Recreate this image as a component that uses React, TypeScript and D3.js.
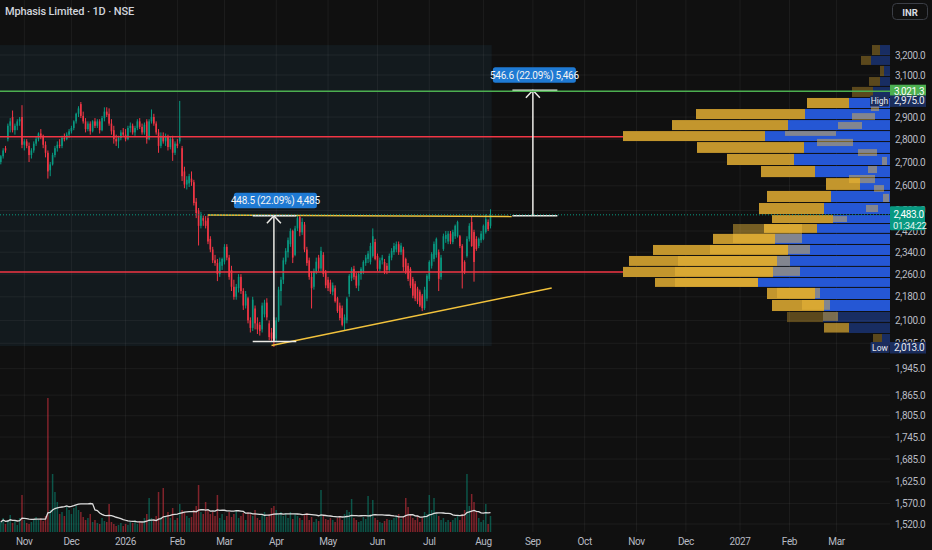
import React from "react";
import * as d3 from "d3";

const W = 932;
const H = 550;
const PLOT_RIGHT = 890;
const UP = "#089981";
const DOWN = "#f23645";
const FONT = "Roboto, 'Liberation Sans', sans-serif";

const title = "Mphasis Limited · 1D · NSE";
const firstBarDate = new Date(2025, 9, 20);

// daily candles [open, high, low, close]
const candles: [number, number, number, number][] = [
  [2700,2730,2690,2725],[2725,2760,2715,2750],[2760,2770,2740,2750],[2800,2870,2790,2860],[2860,2895,2830,2880],
  [2900,2930,2830,2840],[2840,2870,2820,2860],[2860,2890,2840,2880],[2880,2900,2860,2890],[2900,2955,2760,2775],
  [2775,2800,2750,2790],[2790,2800,2760,2770],[2770,2785,2700,2730],[2730,2760,2715,2750],[2750,2790,2740,2780],
  [2780,2810,2770,2800],[2800,2830,2790,2825],[2825,2845,2800,2815],[2815,2820,2760,2775],[2775,2790,2720,2740],
  [2740,2750,2630,2660],[2665,2700,2640,2690],[2690,2740,2685,2730],[2730,2770,2720,2760],[2760,2790,2745,2775],
  [2775,2800,2760,2770],[2770,2815,2760,2805],[2805,2825,2790,2800],[2800,2830,2795,2820],[2820,2845,2805,2835],
  [2835,2860,2825,2850],[2850,2885,2840,2880],[2880,2920,2870,2915],[2915,2950,2900,2940],[2960,2970,2895,2905],
  [2905,2925,2870,2880],[2880,2895,2830,2845],[2845,2880,2835,2870],[2870,2880,2820,2835],[2835,2885,2830,2880],
  [2880,2895,2850,2860],[2860,2890,2850,2880],[2880,2890,2825,2840],[2840,2905,2835,2895],[2895,2945,2880,2925],
  [2925,2945,2900,2910],[2915,2940,2860,2870],[2870,2890,2820,2835],[2840,2860,2780,2800],[2800,2820,2770,2790],
  [2790,2815,2760,2805],[2805,2840,2795,2830],[2830,2850,2810,2820],[2820,2845,2790,2800],[2800,2860,2795,2850],
  [2850,2875,2830,2860],[2860,2870,2820,2830],[2830,2860,2815,2850],[2850,2890,2840,2880],[2880,2895,2845,2855],
  [2855,2870,2820,2830],[2830,2875,2820,2865],[2880,2890,2780,2800],[2800,2890,2795,2880],[2880,2935,2870,2900],
  [2900,2915,2860,2870],[2870,2880,2820,2830],[2830,2845,2740,2770],[2770,2830,2760,2815],[2815,2830,2780,2790],
  [2790,2825,2770,2810],[2810,2820,2750,2765],[2765,2810,2755,2800],[2800,2815,2705,2740],[2740,2790,2730,2780],
  [2780,2800,2760,2770],[2790,2975,2780,2815],[2760,2770,2620,2640],[2660,2680,2590,2605],[2605,2640,2585,2625],
  [2610,2650,2595,2640],[2630,2660,2600,2615],[2615,2625,2520,2530],[2535,2550,2470,2490],[2500,2510,2365,2440],
  [2440,2495,2430,2480],[2470,2480,2440,2460],[2460,2478,2430,2440],[2470,2482,2370,2380],[2390,2400,2340,2350],
  [2350,2360,2300,2310],[2310,2330,2290,2300],[2300,2315,2235,2260],[2260,2320,2250,2305],[2290,2320,2275,2315],
  [2305,2370,2295,2360],[2360,2370,2310,2320],[2320,2330,2240,2250],[2275,2290,2200,2215],[2215,2240,2170,2180],
  [2180,2225,2170,2215],[2210,2260,2195,2250],[2250,2260,2190,2200],[2200,2210,2135,2150],[2150,2200,2140,2190],
  [2175,2180,2090,2100],[2100,2110,2060,2075],[2075,2180,2065,2170],[2140,2150,2070,2090],[2090,2110,2055,2070],
  [2085,2095,2050,2065],[2070,2160,2060,2150],[2120,2170,2110,2160],[2160,2175,2100,2110],[2090,2100,2035,2045],
  [2060,2075,2030,2040],[2100,2110,2013,2035],[2040,2110,2030,2100],[2100,2215,2095,2205],[2200,2250,2150,2240],
  [2240,2320,2225,2310],[2305,2355,2295,2345],[2340,2395,2320,2385],[2370,2430,2360,2420],[2420,2425,2300,2320],
  [2330,2440,2325,2430],[2430,2480,2420,2470],[2475,2480,2400,2415],[2415,2470,2405,2455],[2445,2455,2340,2350],
  [2350,2360,2290,2300],[2310,2320,2240,2250],[2250,2270,2140,2210],[2215,2280,2205,2270],[2270,2320,2260,2305],
  [2320,2330,2270,2280],[2280,2360,2270,2345],[2330,2340,2250,2260],[2265,2275,2210,2220],[2240,2250,2200,2210],
  [2230,2240,2190,2198],[2198,2230,2185,2220],[2210,2220,2160,2165],[2175,2180,2125,2131],[2150,2160,2100,2108],
  [2141,2150,2080,2085],[2090,2120,2068,2110],[2100,2180,2090,2174],[2190,2260,2180,2254],[2245,2285,2235,2279],
  [2279,2290,2240,2250],[2254,2265,2210,2219],[2219,2270,2200,2260],[2260,2285,2240,2279],[2268,2310,2260,2304],
  [2300,2330,2290,2320],[2315,2345,2300,2335],[2304,2375,2295,2363],[2326,2430,2320,2400],[2378,2390,2310,2315],
  [2326,2335,2270,2279],[2279,2320,2270,2310],[2310,2330,2295,2320],[2304,2315,2260,2268],[2290,2300,2260,2275],
  [2275,2335,2265,2326],[2320,2355,2310,2345],[2340,2375,2330,2363],[2350,2380,2340,2370],[2370,2380,2330,2340],
  [2340,2375,2330,2365],[2350,2360,2270,2285],[2315,2320,2260,2268],[2290,2300,2235,2243],[2279,2285,2210,2219],
  [2243,2250,2175,2184],[2226,2235,2165,2174],[2209,2215,2155,2164],[2198,2205,2145,2150],[2184,2190,2131,2141],
  [2141,2215,2135,2205],[2174,2260,2165,2254],[2243,2310,2235,2304],[2290,2340,2280,2333],[2315,2380,2305,2371],
  [2330,2395,2320,2390],[2340,2350,2200,2243],[2250,2330,2240,2320],[2352,2410,2345,2400],[2390,2420,2375,2405],
  [2380,2420,2370,2410],[2410,2420,2370,2380],[2378,2425,2370,2416],[2400,2445,2390,2440],[2400,2460,2395,2455],
  [2400,2405,2355,2363],[2363,2370,2209,2268],[2304,2310,2260,2268],[2326,2400,2320,2390],[2390,2450,2380,2440],
  [2455,2478,2360,2363],[2416,2425,2233,2304],[2390,2400,2345,2352],[2363,2395,2355,2390],[2385,2420,2375,2410],
  [2390,2445,2385,2440],[2416,2485,2410,2466],[2455,2465,2420,2427],[2440,2505,2430,2483],
];

// daily volume (lakh shares)
const volumes: number[] = [
  10,14,8,12,17,9,11,7,14,37,12,9,8,10,13,15,12,14,11,16,
  134,
  22,58,40,30,18,20,16,25,22,
  18,24,26,22,20,15,12,14,18,10,12,9,8,14,11,10,
  28,
  10,8,6,7,9,6,8,7,10,9,12,8,11,9,
  14,18,34,14,12,16,40,15,44,16,20,14,24,12,14,28,22,20,16,14,15,22,26,47,20,18,30,22,18,20,16,37,
  14,18,12,16,20,15,18,22,14,16,19,12,20,18,16,22,14,12,17,20,15,18,24,26,
  22,18,20,16,19,14,20,13,18,16,14,12,17,19,12,15,10,13,11,42,16,13,12,14,
  12,10,14,16,12,18,22,20,33,14,12,10,11,15,13,36,18,32,14,12,10,9,11,13,12,
  12,14,16,18,13,15,34,25,18,14,12,16,10,14,20,18,37,22,34,18,16,12,14,10,12,
  10,12,14,16,12,18,22,58,26,38,30,20,14,10,12,28,8,16,
];

const monthTickDates = [
  new Date(2025, 10, 3), new Date(2025, 11, 1), new Date(2026, 0, 1), new Date(2026, 1, 2),
  new Date(2026, 2, 2), new Date(2026, 3, 1), new Date(2026, 4, 1), new Date(2026, 5, 1),
  new Date(2026, 6, 1), new Date(2026, 7, 3), new Date(2026, 8, 1), new Date(2026, 9, 1),
  new Date(2026, 10, 2), new Date(2026, 11, 1), new Date(2027, 0, 1), new Date(2027, 1, 1),
  new Date(2027, 2, 1),
];
const monthTickLabels = ["Nov","Dec","2026","Feb","Mar","Apr","May","Jun","Jul","Aug","Sep","Oct","Nov","Dec","2027","Feb","Mar"];

const priceTicks = [3200,3100,2900,2800,2700,2600,2500,2420,2340,2260,2180,2100,2025,1945,1865,1805,1745,1685,1625,1570,1520];

// visible-range volume profile
const profileEdges = [3251,3195,3145,3090,3042,2989,2937,2886,2836,2787,2735,2683,2632,2579,2530,2482,2447,2409,2367,2326,2286,2246,2211,2169,2128,2091,2055,2016];
const profileDown = [8,10,4,11,21,42,109,116,142,107,67,54,34,64,65,61,53,62,135,148,150,103,48,52,36,25,9];
const profileUp = [10,19,6,10,17,41,85,102,125,86,96,75,30,59,66,57,73,115,102,113,117,132,75,66,67,41,8];
const profileDim = [1,1,1,1,1,0,0,0,0,0,0,0,0,0,0,0,0,0,0,0,0,0,0,0,1,1,1];

// second (overlaid) profile, down-volume segments
const overlayTop = [2956,2918,2877,2836,2801,2756,2722,2683,2645,2603,2567,2522,2478,2447,2367,2326,2286,2246,2211,2169,2128,2091];
const overlayBottom = [2923,2882,2841,2810,2765,2722,2683,2649,2607,2571,2530,2490,2451,2371,2330,2286,2250,2211,2172,2132,2095,2058];
const overlayFrom = [19,38,52,105,73,32,8,22,41,16,7,24,57,157,180,212,215,215,113,88,67,66];
const overlayTo = [11,15,28,54,37,13,3,13,15,6,1,12,43,88,80,100,90,132,70,60,52,41];

const rangeBox = { fromBar: -5, toBar: 208.5, top: 3251, bottom: 2016 };
const greenLevel = 3021.3;
const redLevels = [2811, 2268];
const lastPrice = 2483;
const countdown = "01:34:22";
const highValue = 2975;
const lowValue = 2013;

const triangleTop = { b0: 88, p0: 2482, b1: 217, p1: 2476 };
const triangleBottom = { b0: 115, p0: 2018, b1: 234, p1: 2211 };

const measures = [
  { bar: 116, from: 2030.5, to: 2479, left: 107, right: 125.5, label: "448.5 (22.09%) 4,485" },
  { bar: 226, from: 2479, to: 3025.6, left: 217.3, right: 236.4, label: "546.6 (22.09%) 5,466" },
];

export default function App() {
  const x = d3.scaleLinear().domain([0, candles.length - 1]).range([0.8, 490.5]);
  const y = d3.scaleLog().domain([1520, 3200]).range([524, 55]);
  const yVol = d3.scaleLinear().domain([0, 140]).range([532, 392]);
  const prof = d3.scaleLinear().domain([0, 300]).range([0, 300]);
  const fmt = d3.format(",.1f");
  const wdIndex = (d: Date) =>
    d3.timeDays(firstBarDate, d).filter((t) => t.getDay() % 6 !== 0).length;

  const ma = volumes.map((_, i) => d3.mean(volumes.slice(Math.max(0, i - 19), i + 1)) as number);
  const maPath = d3.line<number>().x((_, i) => x(i)).y((v) => yVol(v)).curve(d3.curveLinear)(ma) || "";

  const grid = "rgba(255,255,255,0.055)";
  const textCol = "#b8bbc3";
  const measureCol = "#ecebe6";
  const axisFont = { fontSize: 10, letterSpacing: -0.35 };

  return (
    <>
      <style>{`body{margin:0;background:#101010;}`}</style>
      <svg width={W} height={H} viewBox={`0 0 ${W} ${H}`} style={{ display: "block", fontFamily: FONT }}>
        <rect x={0} y={0} width={W} height={H} fill="#101010" />
        {/* range highlight */}
        <rect
          x={Math.max(0, x(rangeBox.fromBar))}
          y={y(rangeBox.top)}
          width={x(rangeBox.toBar) - Math.max(0, x(rangeBox.fromBar))}
          height={y(rangeBox.bottom) - y(rangeBox.top)}
          fill="#131a1e"
        />
        {/* grid */}
        {monthTickDates.map((d, i) => (
          <line key={"vg" + i} x1={x(wdIndex(d))} x2={x(wdIndex(d))} y1={0} y2={532} stroke={grid} />
        ))}
        {priceTicks.map((p) => (
          <line key={"hg" + p} x1={0} x2={PLOT_RIGHT} y1={y(p)} y2={y(p)} stroke={grid} />
        ))}

        {/* volume */}
        {volumes.map((v, i) => {
          const [o, , , c] = candles[i];
          return (
            <rect
              key={"v" + i}
              x={x(i) - 0.75}
              width={1.5}
              y={yVol(v)}
              height={yVol(0) - yVol(v)}
              fill={c >= o ? UP : DOWN}
              opacity={0.5}
            />
          );
        })}
        <path d={maPath} fill="none" stroke="#dcdcdc" strokeWidth={1.3} />

        {/* candles */}
        {candles.map(([o, h, l, c], i) => {
          const col = c >= o ? UP : DOWN;
          const cx = x(i);
          const yo = y(o);
          const yc = y(c);
          return (
            <g key={"c" + i}>
              <line x1={cx} x2={cx} y1={y(h)} y2={y(l)} stroke={col} strokeWidth={1} />
              <rect x={cx - 0.8} width={1.6} y={Math.min(yo, yc)} height={Math.max(1, Math.abs(yo - yc))} fill={col} />
            </g>
          );
        })}

        {/* red levels */}
        {redLevels.map((p) => (
          <line key={"r" + p} x1={0} x2={PLOT_RIGHT} y1={y(p)} y2={y(p)} stroke={DOWN} strokeWidth={1.5} />
        ))}

        {/* triangle */}
        <line
          x1={x(triangleTop.b0)} y1={y(triangleTop.p0)} x2={x(triangleTop.b1)} y2={y(triangleTop.p1)}
          stroke="#f2c23c" strokeWidth={1.5}
        />
        <line
          x1={x(triangleBottom.b0)} y1={y(triangleBottom.p0)} x2={x(triangleBottom.b1)} y2={y(triangleBottom.p1)}
          stroke="#f2c23c" strokeWidth={1.5}
        />

        {/* measures */}
        {measures.map((m, i) => {
          const mx = x(m.bar);
          const yb = y(m.from);
          const yt = y(m.to);
          const bw = 83;
          const bh = 15.6;
          return (
            <g key={"m" + i}>
              <line x1={x(m.left)} x2={x(m.right)} y1={yb} y2={yb} stroke={measureCol} strokeWidth={1.5} />
              <line x1={x(m.left)} x2={x(m.right)} y1={yt} y2={yt} stroke={measureCol} strokeWidth={1.5} />
              <line x1={mx} x2={mx} y1={yb} y2={yt} stroke={measureCol} strokeWidth={1.5} />
              <path
                d={`M${mx - 7},${yt + 7.5} L${mx},${yt} L${mx + 7},${yt + 7.5}`}
                fill="none" stroke={measureCol} strokeWidth={1.5}
              />
              <rect x={mx - bw / 2 + 1.5} y={yt - 7.5 - bh} width={bw} height={bh} rx={2.5} fill="#1f7ad3" />
              <text x={mx + 1.5} y={yt - 7.5 - bh / 2} fill="#f4f4f4" fontSize={10} letterSpacing={-0.25} textAnchor="middle" dominantBaseline="central">
                {m.label}
              </text>
            </g>
          );
        })}

        {/* volume profile */}
        {profileDown.map((dn, r) => {
          const yt = y(profileEdges[r]);
          const yb = y(profileEdges[r + 1]);
          const h = Math.max(1, yb - yt - 1);
          const up = profileUp[r];
          const op = profileDim[r] ? 0.42 : 1;
          return (
            <g key={"p" + r} opacity={op}>
              <rect x={PLOT_RIGHT - prof(up)} width={prof(up)} y={yt} height={h} fill="#2557d4" />
              <rect x={PLOT_RIGHT - prof(up + dn)} width={prof(dn)} y={yt} height={h} fill="#c3962d" />
            </g>
          );
        })}
        {overlayTop.map((pt, k) => {
          const yt = y(pt);
          const yb = y(overlayBottom[k]);
          return (
            <rect
              key={"o" + k}
              x={PLOT_RIGHT - prof(overlayFrom[k])}
              width={prof(overlayFrom[k]) - prof(overlayTo[k])}
              y={yt}
              height={Math.max(1, yb - yt - 1)}
              fill="rgb(245,190,60)"
              opacity={0.45}
            />
          );
        })}

        {/* green level + last price line */}
        <line x1={0} x2={PLOT_RIGHT} y1={y(greenLevel)} y2={y(greenLevel)} stroke="#4caf50" strokeWidth={1.5} />
        <line x1={0} x2={PLOT_RIGHT} y1={y(lastPrice)} y2={y(lastPrice)} stroke={UP} strokeWidth={1} strokeDasharray="1,2" />

        {/* title */}
        <text x={5} y={15} fill="#d1d4dc" fontSize={11} fontWeight={500} letterSpacing={-0.15}>{title}</text>

        {/* INR button */}
        <rect x={892.5} y={3.5} width={35} height={16} rx={4} fill="none" stroke="#3b3e46" />
        <text x={910} y={12} fill="#d8dae0" fontSize={9.5} fontWeight={700} textAnchor="middle" dominantBaseline="central">INR</text>

        {/* price axis labels */}
        {priceTicks.map((p) => (
          <text key={"pt" + p} x={895} y={y(p)} fill={textCol} {...axisFont} dominantBaseline="central">
            {fmt(p)}
          </text>
        ))}

        {/* time axis labels */}
        {monthTickDates.map((d, i) => (
          <text key={"tl" + i} x={x(wdIndex(d))} y={541} fill={textCol} {...axisFont} textAnchor="middle" dominantBaseline="central">
            {monthTickLabels[i]}
          </text>
        ))}

        {/* price tags */}
        <rect x={890} y={y(greenLevel) - 6.5} width={36} height={13} fill="#4caf50" />
        <text x={894} y={y(greenLevel)} fill="#ffffff" {...axisFont} dominantBaseline="central">{fmt(greenLevel)}</text>

        <rect x={870} y={y(highValue) - 5.5} width={19} height={11} rx={1} fill="#1b2d5c" />
        <text x={879.5} y={y(highValue)} fill="#e8eaf0" fontSize={8.5} textAnchor="middle" dominantBaseline="central">High</text>
        <rect x={890} y={y(highValue) - 5.5} width={36} height={11.5} fill="#1b2d5c" />
        <text x={894} y={y(highValue)} fill="#e8eaf0" {...axisFont} dominantBaseline="central">{fmt(highValue)}</text>

        <rect x={890} y={y(lastPrice) - 8.5} width={35} height={24} rx={1} fill={UP} />
        <text x={893.5} y={y(lastPrice)} fill="#ffffff" {...axisFont} dominantBaseline="central">{fmt(lastPrice)}</text>
        <text x={893} y={y(lastPrice) + 10.5} fill="#e6f5f1" fontSize={9.5} letterSpacing={-0.4} dominantBaseline="central">{countdown}</text>

        <rect x={870.5} y={y(lowValue) - 5} width={19} height={11} rx={1} fill="#1b2d5c" />
        <text x={880} y={y(lowValue) + 0.5} fill="#e8eaf0" fontSize={8.5} textAnchor="middle" dominantBaseline="central">Low</text>
        <rect x={890} y={y(lowValue) - 5} width={36} height={11.5} fill="#1b2d5c" />
        <text x={894} y={y(lowValue) + 0.5} fill="#e8eaf0" {...axisFont} dominantBaseline="central">{fmt(lowValue)}</text>
      </svg>
    </>
  );
}
